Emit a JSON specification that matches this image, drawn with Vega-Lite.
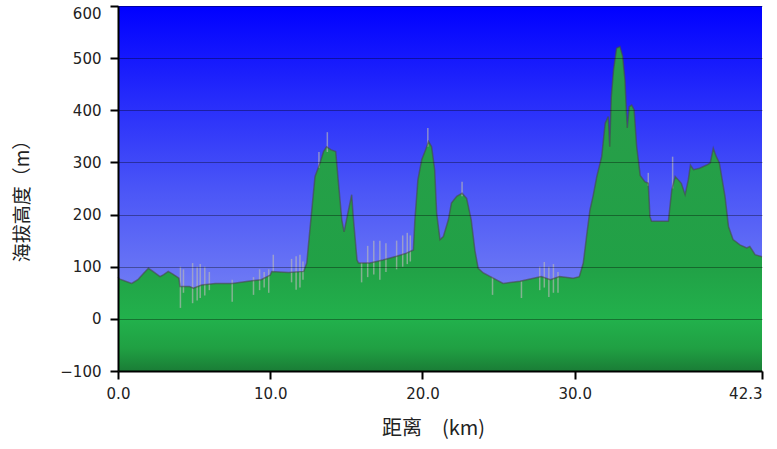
{
  "$schema": "https://vega.github.io/schema/vega-lite/v6.json",
  "width": 644,
  "height": 365,
  "autosize": {"type": "none"},
  "padding": {"left": 118, "top": 6, "right": 15, "bottom": 78},
  "background": "white",
  "config": {
    "view": {"stroke": null, "fill": {"gradient": "linear", "x1": 0, "y1": 0, "x2": 0, "y2": 1,
          "stops": [{"offset": 0, "color": "#0000ff"}, {"offset": 0.5, "color": "#4a55f7"}, {"offset": 1, "color": "#8d9af2"}]}},
    "axis": {
      "domainColor": "#000", "domainWidth": 2,
      "tickColor": "#000", "tickWidth": 2, "tickSize": 8,
      "labelFont": "DejaVu Sans", "labelFontSize": 15, "labelColor": "#222",
      "titleFont": "Noto Sans CJK SC", "titleFontSize": 18, "titleFontWeight": "normal", "titleColor": "#222",
      "gridColor": "#000", "gridOpacity": 0.35, "gridWidth": 1
    }
  },
  "datasets": {
    "profile": [
      {"km": 0.0, "elev": 80}, {"km": 0.13, "elev": 76}, {"km": 0.5, "elev": 72}, {"km": 0.9, "elev": 68},
      {"km": 1.3, "elev": 75}, {"km": 1.7, "elev": 88}, {"km": 2.0, "elev": 97}, {"km": 2.3, "elev": 91},
      {"km": 2.76, "elev": 81}, {"km": 3.0, "elev": 85}, {"km": 3.3, "elev": 91}, {"km": 3.6, "elev": 86},
      {"km": 3.85, "elev": 81}, {"km": 4.0, "elev": 78}, {"km": 4.07, "elev": 62}, {"km": 4.7, "elev": 62},
      {"km": 4.95, "elev": 59}, {"km": 5.5, "elev": 65}, {"km": 6.4, "elev": 68}, {"km": 7.5, "elev": 68},
      {"km": 8.55, "elev": 72}, {"km": 9.4, "elev": 75}, {"km": 10.0, "elev": 84}, {"km": 10.1, "elev": 91},
      {"km": 11.2, "elev": 89}, {"km": 12.2, "elev": 91}, {"km": 12.4, "elev": 107}, {"km": 12.5, "elev": 139},
      {"km": 12.7, "elev": 200}, {"km": 12.94, "elev": 273}, {"km": 13.27, "elev": 299}, {"km": 13.5, "elev": 321},
      {"km": 13.7, "elev": 330}, {"km": 14.0, "elev": 324}, {"km": 14.3, "elev": 321}, {"km": 14.5, "elev": 254},
      {"km": 14.7, "elev": 190}, {"km": 14.85, "elev": 167}, {"km": 15.1, "elev": 203}, {"km": 15.35, "elev": 238},
      {"km": 15.45, "elev": 196}, {"km": 15.7, "elev": 113}, {"km": 15.8, "elev": 107}, {"km": 16.55, "elev": 107},
      {"km": 17.4, "elev": 113}, {"km": 18.3, "elev": 120}, {"km": 18.95, "elev": 126}, {"km": 19.4, "elev": 132},
      {"km": 19.5, "elev": 190}, {"km": 19.7, "elev": 267}, {"km": 19.95, "elev": 305}, {"km": 20.2, "elev": 324},
      {"km": 20.4, "elev": 340}, {"km": 20.6, "elev": 330}, {"km": 20.8, "elev": 286}, {"km": 20.93, "elev": 203},
      {"km": 21.15, "elev": 152}, {"km": 21.37, "elev": 158}, {"km": 21.7, "elev": 190}, {"km": 21.9, "elev": 222},
      {"km": 22.25, "elev": 235}, {"km": 22.6, "elev": 241}, {"km": 22.9, "elev": 231}, {"km": 23.2, "elev": 190},
      {"km": 23.45, "elev": 130}, {"km": 23.66, "elev": 97}, {"km": 24.0, "elev": 88}, {"km": 24.65, "elev": 78},
      {"km": 25.3, "elev": 68}, {"km": 26.4, "elev": 72}, {"km": 27.3, "elev": 78}, {"km": 27.8, "elev": 81},
      {"km": 28.4, "elev": 75}, {"km": 29.0, "elev": 81}, {"km": 29.9, "elev": 78}, {"km": 30.3, "elev": 81},
      {"km": 30.56, "elev": 107}, {"km": 30.8, "elev": 164}, {"km": 31.0, "elev": 209}, {"km": 31.2, "elev": 235},
      {"km": 31.45, "elev": 273}, {"km": 31.77, "elev": 311}, {"km": 32.0, "elev": 375}, {"km": 32.2, "elev": 388},
      {"km": 32.3, "elev": 330}, {"km": 32.4, "elev": 426}, {"km": 32.55, "elev": 478}, {"km": 32.75, "elev": 519},
      {"km": 32.97, "elev": 522}, {"km": 33.15, "elev": 503}, {"km": 33.3, "elev": 458}, {"km": 33.4, "elev": 395},
      {"km": 33.45, "elev": 366}, {"km": 33.58, "elev": 407}, {"km": 33.74, "elev": 410}, {"km": 33.9, "elev": 401},
      {"km": 34.07, "elev": 330}, {"km": 34.3, "elev": 275}, {"km": 34.6, "elev": 263}, {"km": 34.83, "elev": 260},
      {"km": 34.94, "elev": 196}, {"km": 35.05, "elev": 187}, {"km": 36.15, "elev": 187}, {"km": 36.37, "elev": 247},
      {"km": 36.6, "elev": 273}, {"km": 37.0, "elev": 260}, {"km": 37.25, "elev": 238}, {"km": 37.46, "elev": 267},
      {"km": 37.6, "elev": 295}, {"km": 37.8, "elev": 286}, {"km": 38.2, "elev": 289}, {"km": 38.67, "elev": 295},
      {"km": 38.9, "elev": 299}, {"km": 39.1, "elev": 327}, {"km": 39.3, "elev": 311}, {"km": 39.5, "elev": 299},
      {"km": 39.87, "elev": 235}, {"km": 40.1, "elev": 177}, {"km": 40.4, "elev": 152}, {"km": 40.85, "elev": 142},
      {"km": 41.3, "elev": 136}, {"km": 41.5, "elev": 139}, {"km": 41.85, "elev": 123}, {"km": 42.3, "elev": 119}
    ],
    "spikes": [
      {"km": 4.1, "elev": 21, "elev2": 100}, {"km": 4.3, "elev": 50, "elev2": 95}, {"km": 4.9, "elev": 30, "elev2": 107},
      {"km": 5.2, "elev": 35, "elev2": 100}, {"km": 5.4, "elev": 40, "elev2": 105}, {"km": 5.7, "elev": 45, "elev2": 100},
      {"km": 6.0, "elev": 55, "elev2": 90}, {"km": 7.5, "elev": 33, "elev2": 75}, {"km": 8.9, "elev": 46, "elev2": 80},
      {"km": 9.3, "elev": 55, "elev2": 95}, {"km": 9.6, "elev": 60, "elev2": 90}, {"km": 9.9, "elev": 50, "elev2": 95},
      {"km": 10.2, "elev": 91, "elev2": 123}, {"km": 11.4, "elev": 70, "elev2": 115}, {"km": 11.7, "elev": 56, "elev2": 120},
      {"km": 11.95, "elev": 60, "elev2": 123}, {"km": 12.15, "elev": 75, "elev2": 110}, {"km": 13.2, "elev": 290, "elev2": 320},
      {"km": 13.75, "elev": 320, "elev2": 358}, {"km": 16.0, "elev": 70, "elev2": 108}, {"km": 16.4, "elev": 80, "elev2": 140},
      {"km": 16.8, "elev": 85, "elev2": 150}, {"km": 17.2, "elev": 75, "elev2": 150}, {"km": 17.6, "elev": 90, "elev2": 145},
      {"km": 18.3, "elev": 95, "elev2": 150}, {"km": 18.7, "elev": 100, "elev2": 160}, {"km": 19.0, "elev": 105, "elev2": 165},
      {"km": 19.2, "elev": 110, "elev2": 160}, {"km": 20.35, "elev": 330, "elev2": 366}, {"km": 22.6, "elev": 235, "elev2": 263},
      {"km": 24.6, "elev": 46, "elev2": 80}, {"km": 26.5, "elev": 40, "elev2": 72}, {"km": 27.7, "elev": 55, "elev2": 100},
      {"km": 28.0, "elev": 60, "elev2": 109}, {"km": 28.3, "elev": 42, "elev2": 100}, {"km": 28.6, "elev": 50, "elev2": 105},
      {"km": 28.9, "elev": 50, "elev2": 90}, {"km": 34.83, "elev": 255, "elev2": 280}, {"km": 36.43, "elev": 250, "elev2": 311}
    ]
  },
  "encoding": {
    "x": {
      "field": "km", "type": "quantitative",
      "scale": {"domain": [0, 42.3], "nice": false, "zero": false},
      "axis": {
        "values": [0, 10, 20, 30, 42.3], "format": ".1f", "grid": false, "labelPadding": 7,
        "labelAlign": {"condition": {"test": "datum.value > 40", "value": "right"}, "value": "center"},
        "labelOverlap": false, "labelFlush": false,
        "title": "距离　(km)", "titleFontSize": 20, "titleX": 315, "titleY": 57, "titleBaseline": "middle", "zindex": 1
      }
    },
    "y": {
      "field": "elev", "type": "quantitative",
      "scale": {"domain": [-100, 600], "nice": false, "zero": false},
      "axis": {
        "values": [-100, 0, 100, 200, 300, 400, 500, 600], "format": "d", "grid": true, "labelPadding": 9,
        "labelBaseline": {"condition": {"test": "datum.value >= 600", "value": "top"}, "value": "middle"},
        "labelBound": false,
        "title": "海拔高度（m）", "titleFontSize": 19, "titleX": -96, "titleY": 190, "titleBaseline": "middle", "zindex": 1
      }
    }
  },
  "layer": [
    {
      "data": {"values": [{"k": 1}]},
      "mark": {
        "type": "rect",
        "fill": {"gradient": "linear", "x1": 0, "y1": 0, "x2": 0, "y2": 1,
          "stops": [{"offset": 0, "color": "#0000ff"}, {"offset": 0.5, "color": "#4a55f7"}, {"offset": 1, "color": "#8d9af2"}]}
      },
      "encoding": {
        "x": {"datum": 0, "type": "quantitative"},
        "x2": {"datum": 42.3},
        "y": {"datum": 600, "type": "quantitative"},
        "y2": {"datum": -100}
      }
    },
    {
      "data": {"name": "profile"},
      "mark": {
        "type": "area",
        "color": {"gradient": "linear", "x1": 0, "y1": 0, "x2": 0, "y2": 1,
          "stops": [{"offset": 0, "color": "#2a9d4a"}, {"offset": 0.68, "color": "#21a146"}, {"offset": 0.84, "color": "#22b14c"}, {"offset": 0.93, "color": "#20a043"}, {"offset": 1, "color": "#1a7d36"}]}
      },
      "encoding": {"y2": {"datum": -100}}
    },
    {
      "data": {"name": "spikes"},
      "mark": {"type": "rule", "color": "#b8b8b8", "opacity": 0.65, "strokeWidth": 1.5},
      "encoding": {"y2": {"field": "elev2"}}
    },
    {
      "data": {"name": "profile"},
      "mark": {"type": "line", "color": "#484848", "opacity": 0.6, "strokeWidth": 1.5}
    }
  ]
}
